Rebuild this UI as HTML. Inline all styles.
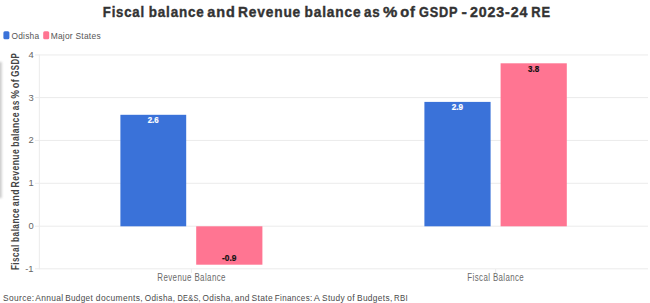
<!DOCTYPE html>
<html>
<head>
<meta charset="utf-8">
<style>
html,body{margin:0;padding:0;background:#fff;width:650px;height:303px;overflow:hidden;}
svg{display:block;font-family:"Liberation Sans",sans-serif;}
</style>
</head>
<body>
<svg width="650" height="303" viewBox="0 0 650 303">
  <defs>
    <filter id="bl" x="-2" y="-0.2" width="5" height="1.4"><feGaussianBlur stdDeviation="1.3"/></filter>
  </defs>
  <rect x="-3" y="62" width="4.8" height="136" fill="#cccccc" filter="url(#bl)"/>

  <g font-size="14.9" font-weight="bold" fill="#333333" stroke="#333333" stroke-width="0.4">
    <text x="102.82" y="17.0" textLength="42.07" lengthAdjust="spacingAndGlyphs" letter-spacing="0.06em">Fiscal</text>
    <text x="148.80" y="17.0" textLength="55.71" lengthAdjust="spacingAndGlyphs" letter-spacing="0.06em">balance</text>
    <text x="207.31" y="17.0" textLength="28.29" lengthAdjust="spacingAndGlyphs" letter-spacing="0.06em">and</text>
    <text x="237.98" y="17.0" textLength="63.13" lengthAdjust="spacingAndGlyphs" letter-spacing="0.06em">Revenue</text>
    <text x="304.49" y="17.0" textLength="56.85" lengthAdjust="spacingAndGlyphs" letter-spacing="0.06em">balance</text>
    <text x="364.04" y="17.0" textLength="16.48" lengthAdjust="spacingAndGlyphs" letter-spacing="0.06em">as</text>
    <text x="383.07" y="17.0" textLength="15.26" lengthAdjust="spacingAndGlyphs" letter-spacing="0.06em">%</text>
    <text x="400.21" y="17.0" textLength="15.63" lengthAdjust="spacingAndGlyphs" letter-spacing="0.06em">of</text>
    <text x="419.09" y="17.0" textLength="39.11" lengthAdjust="spacingAndGlyphs" letter-spacing="0.06em">GSDP</text>
    <text x="461.45" y="17.0" textLength="6.36" lengthAdjust="spacingAndGlyphs" letter-spacing="0.06em">-</text>
    <text x="470.03" y="17.0" textLength="58.17" lengthAdjust="spacingAndGlyphs" letter-spacing="0.06em">2023-24</text>
    <text x="531.34" y="17.0" textLength="19.48" lengthAdjust="spacingAndGlyphs" letter-spacing="0.06em">RE</text>
  </g>

  <rect x="3.4" y="31.2" width="6" height="8" rx="1.5" fill="#3a72d9"/>
  <rect x="43.2" y="31.2" width="6" height="8" rx="1.5" fill="#ff7592"/>
  <g font-size="9.8" fill="#555555">
    <text x="11.41" y="39" textLength="27.93" lengthAdjust="spacingAndGlyphs" letter-spacing="0.03em">Odisha</text>
    <text x="50.63" y="39" textLength="50.23" lengthAdjust="spacingAndGlyphs" letter-spacing="0.03em">Major States</text>
  </g>

  <g stroke="#ebebeb" stroke-width="1">
    <line x1="35" y1="54.95" x2="648" y2="54.95"/>
    <line x1="35" y1="97.6" x2="648" y2="97.6"/>
    <line x1="35" y1="140.45" x2="648" y2="140.45"/>
    <line x1="35" y1="183.3" x2="648" y2="183.3"/>
    <line x1="35" y1="226.2" x2="648" y2="226.2"/>
    <line x1="35" y1="268.8" x2="648" y2="268.8"/>
    <line x1="39.35" y1="54.5" x2="39.35" y2="269.3"/>
    <line x1="191.4" y1="269" x2="191.4" y2="273"/>
    <line x1="495.6" y1="269" x2="495.6" y2="273"/>
  </g>

  <g font-size="9.4" fill="#666666" text-anchor="end">
    <text x="33.6" y="57.6">4</text>
    <text x="33.6" y="100.5">3</text>
    <text x="33.6" y="143.4">2</text>
    <text x="33.6" y="186.3">1</text>
    <text x="33.6" y="229.2">0</text>
    <text x="33.6" y="271.9">-1</text>
  </g>

  <g transform="translate(18.6,269.5) rotate(-90)" font-size="10.3" font-weight="bold" fill="#454545" stroke="#454545" stroke-width="0">
    <text x="-0.55" y="0" textLength="25.69" lengthAdjust="spacingAndGlyphs" letter-spacing="0.05em">Fiscal</text>
    <text x="27.57" y="0" textLength="34.00" lengthAdjust="spacingAndGlyphs" letter-spacing="0.05em">balance</text>
    <text x="63.35" y="0" textLength="17.22" lengthAdjust="spacingAndGlyphs" letter-spacing="0.05em">and</text>
    <text x="82.09" y="0" textLength="38.53" lengthAdjust="spacingAndGlyphs" letter-spacing="0.05em">Revenue</text>
    <text x="122.75" y="0" textLength="34.70" lengthAdjust="spacingAndGlyphs" letter-spacing="0.05em">balance</text>
    <text x="159.17" y="0" textLength="10.03" lengthAdjust="spacingAndGlyphs" letter-spacing="0.05em">as</text>
    <text x="170.81" y="0" textLength="9.23" lengthAdjust="spacingAndGlyphs" letter-spacing="0.05em">%</text>
    <text x="181.28" y="0" textLength="9.51" lengthAdjust="spacingAndGlyphs" letter-spacing="0.05em">of</text>
    <text x="192.83" y="0" textLength="23.87" lengthAdjust="spacingAndGlyphs" letter-spacing="0.05em">GSDP</text>
  </g>

  <rect x="120.4" y="114.8" width="65.8" height="111.5" fill="#3a72d9"/>
  <rect x="196.2" y="226.3" width="66.2" height="38.4" fill="#ff7592"/>
  <rect x="424.4" y="101.9" width="66.2" height="124.4" fill="#3a72d9"/>
  <rect x="500.6" y="63.3" width="66.2" height="163" fill="#ff7592"/>

  <g font-size="8.6" font-weight="bold" stroke-width="0.2">
    <text x="147.74" y="123.3" textLength="10.95" lengthAdjust="spacingAndGlyphs" fill="#ffffff" stroke="#ffffff">2.6</text>
    <text x="222.07" y="261.4" textLength="14.34" lengthAdjust="spacingAndGlyphs" fill="#111111" stroke="#111111">-0.9</text>
    <text x="451.83" y="110.3" textLength="11.27" lengthAdjust="spacingAndGlyphs" fill="#ffffff" stroke="#ffffff">2.9</text>
    <text x="528.09" y="71.6" textLength="11.05" lengthAdjust="spacingAndGlyphs" fill="#111111" stroke="#111111">3.8</text>
  </g>

  <g font-size="10" fill="#6a6a6a">
    <text x="157.26" y="280.7" textLength="68.66" lengthAdjust="spacingAndGlyphs" letter-spacing="0.05em">Revenue Balance</text>
    <text x="467.37" y="280.7" textLength="56.79" lengthAdjust="spacingAndGlyphs" letter-spacing="0.05em">Fiscal Balance</text>
  </g>

  <g font-size="9.6" fill="#4a4a4a">
    <text x="3.11" y="301.2" textLength="31.20" lengthAdjust="spacingAndGlyphs" letter-spacing="0.04em">Source:</text>
    <text x="35.34" y="301.2" textLength="28.26" lengthAdjust="spacingAndGlyphs" letter-spacing="0.04em">Annual</text>
    <text x="65.14" y="301.2" textLength="27.96" lengthAdjust="spacingAndGlyphs" letter-spacing="0.04em">Budget</text>
    <text x="95.86" y="301.2" textLength="47.13" lengthAdjust="spacingAndGlyphs" letter-spacing="0.04em">documents,</text>
    <text x="144.82" y="301.2" textLength="30.47" lengthAdjust="spacingAndGlyphs" letter-spacing="0.04em">Odisha,</text>
    <text x="177.51" y="301.2" textLength="23.42" lengthAdjust="spacingAndGlyphs" letter-spacing="0.04em">DE&amp;S,</text>
    <text x="202.51" y="301.2" textLength="30.78" lengthAdjust="spacingAndGlyphs" letter-spacing="0.04em">Odisha,</text>
    <text x="234.66" y="301.2" textLength="15.05" lengthAdjust="spacingAndGlyphs" letter-spacing="0.04em">and</text>
    <text x="251.50" y="301.2" textLength="21.49" lengthAdjust="spacingAndGlyphs" letter-spacing="0.04em">State</text>
    <text x="274.86" y="301.2" textLength="37.68" lengthAdjust="spacingAndGlyphs" letter-spacing="0.04em">Finances:</text>
    <text x="313.74" y="301.2" textLength="6.49" lengthAdjust="spacingAndGlyphs" letter-spacing="0.04em">A</text>
    <text x="322.01" y="301.2" textLength="22.95" lengthAdjust="spacingAndGlyphs" letter-spacing="0.04em">Study</text>
    <text x="346.95" y="301.2" textLength="8.01" lengthAdjust="spacingAndGlyphs" letter-spacing="0.04em">of</text>
    <text x="357.03" y="301.2" textLength="35.53" lengthAdjust="spacingAndGlyphs" letter-spacing="0.04em">Budgets,</text>
    <text x="393.97" y="301.2" textLength="13.97" lengthAdjust="spacingAndGlyphs" letter-spacing="0.04em">RBI</text>
  </g>
</svg>
</body>
</html>
